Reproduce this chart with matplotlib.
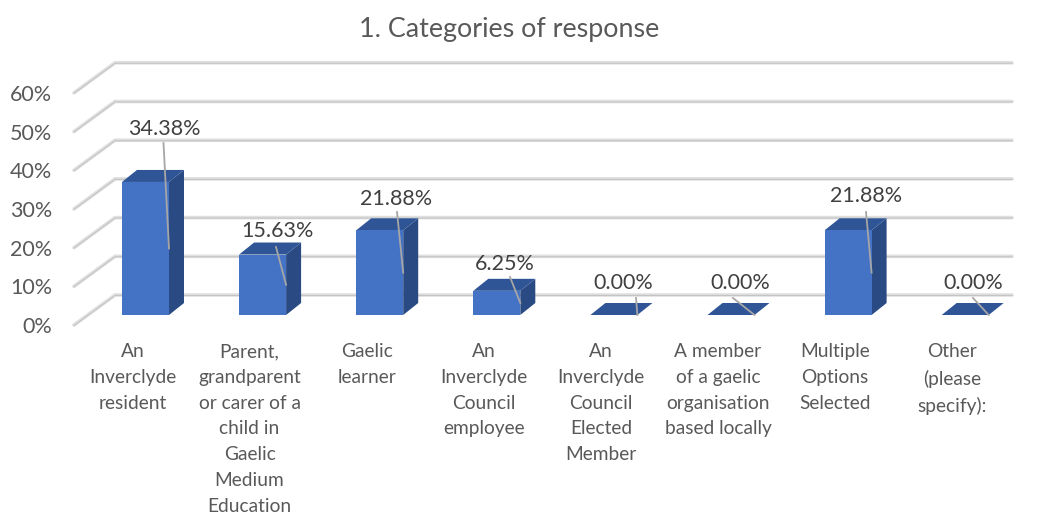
import matplotlib.pyplot as plt
from matplotlib.patches import Polygon

plt.rcParams['font.family'] = ['Lato', 'DejaVu Sans']

categories = ['An\nInverclyde\nresident',
              'Parent,\ngrandparent\nor carer of a\nchild in\nGaelic\nMedium\nEducation',
              'Gaelic\nlearner',
              'An\nInverclyde\nCouncil\nemployee',
              'An\nInverclyde\nCouncil\nElected\nMember',
              'A member\nof a gaelic\norganisation\nbased locally',
              'Multiple\nOptions\nSelected',
              'Other\n(please\nspecify):']
values = [34.38, 15.63, 21.88, 6.25, 0.0, 0.0, 21.88, 0.0]
ticks = [0, 10, 20, 30, 40, 50, 60]

# layout, in pixels of the 1038x514 picture
W, H = 1038, 514
x0, step = 145.5, 117.1
y0, per = 315, 3.87
label_x = [164, 277, 396, 505, 623, 740, 866, 973]
label_y = [129, 231, 199, 264, 283, 283, 196, 283]
leader_x = [163.5, 276, 397, 510, 636, 733, 866, 973]
leader_y = [143, 247, 212, 277, 298, 298, 212, 298]

fig = plt.figure(figsize=(W / 100, H / 100), dpi=100)
ax = fig.add_axes([0, 0, 1, 1])
ax.set_xlim(-x0 / step, (W - x0) / step)
ax.set_ylim((y0 - H) / per, y0 / per)
ax.axis('off')

def px(x):
    return (x - x0) / step

def py(y):
    return (y0 - y) / per

# walls / gridlines
for t in ticks:
    xs = [px(74), px(115), px(1012)]
    ys = [t + py(325), t + py(295), t + py(295)]
    ax.plot(xs, ys, color='#e0e0e0', lw=2.6, solid_capstyle='round', solid_joinstyle='miter', zorder=1)
    ax.plot(xs, [v - 0.12 for v in ys], color='#c4c4c4', lw=0.8, zorder=1.1)
    ax.text(px(52), t + py(327), f'{t}%', ha='right', va='center', fontsize=15.5, color='#595959')

# bars
half = 23.5 / step
dx = 15 / step
dy = 12 / per
for i, v in enumerate(values):
    l, r = i - half, i + half
    ax.add_patch(Polygon([(r, 0), (r + dx, dy), (r + dx, v + dy), (r, v)], fc='#2a4a83', ec='none', zorder=2))
    ax.add_patch(Polygon([(l, v), (l + dx, v + dy), (r + dx, v + dy), (r, v)], fc='#2f5597', ec='none', zorder=2))
    if v > 0:
        ax.bar(i, v, width=2 * half, color='#4472c4', zorder=3)
    # leader goes to the middle of the right edge of the bar
    ax.plot([px(leader_x[i]), r], [py(leader_y[i]), v / 2], color='#a6a6a6', lw=1.3, zorder=4)
    ax.text(px(label_x[i]), py(label_y[i]), f'{v:.2f}%', ha='center', va='center', fontsize=15.5, color='#404040', zorder=5)
    ax.text(i - 13 / step, py(343), categories[i], ha='center', va='top', fontsize=13.8,
            color='#595959', linespacing=1.63)

ax.text(px(509), py(29), '1. Categories of response', ha='center', va='center', fontsize=19.4, color='#595959')

fig.savefig('out.png', dpi=100)
